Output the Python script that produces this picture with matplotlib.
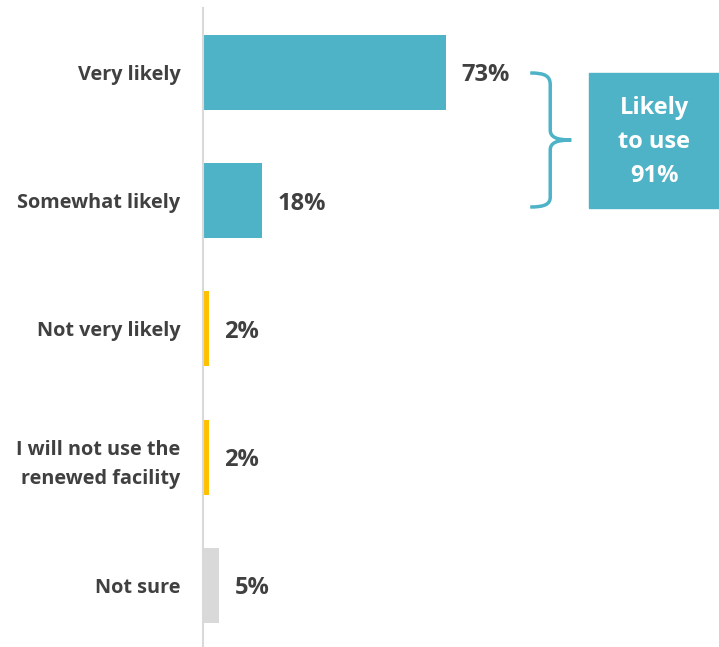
import matplotlib.pyplot as plt
from matplotlib.patches import Rectangle, PathPatch
from matplotlib.path import Path

categories = ['Very likely', 'Somewhat likely', 'Not very likely',
              'I will not use the\nrenewed facility', 'Not sure']
values = [73, 18, 2, 2, 5]
colors = ['#4FB3C8', '#4FB3C8', '#FFC000', '#FFC000', '#D9D9D9']
summary_label = 'Likely\nto use\n91%'

plt.rcParams['font.family'] = ['Open Sans', 'DejaVu Sans']
txt = '#404040'

fig = plt.figure(figsize=(7.19, 6.47), dpi=100)
ax = fig.add_axes([202.5 / 719, 0, 1 - 202.5 / 719, (647 - 8) / 647])

y = list(range(len(categories)))
ax.barh(y, values, height=0.585, color=colors)
ax.set_ylim(4.48, -0.503)
ax.set_xlim(0, 155)

for yi, v in zip(y, values):
    ax.annotate(f'{v}%', (v, yi), xytext=(11, -2), textcoords='offset points',
                ha='left', va='center', fontsize=17, fontweight='bold', color=txt)

ax.set_yticks(y)
ax.set_yticklabels(categories, fontsize=14.3, fontweight='bold', color=txt,
                   linespacing=1.6)
ax.tick_params(axis='y', length=0, pad=16)
ax.set_xticks([])
for s in ['top', 'right', 'bottom']:
    ax.spines[s].set_visible(False)
ax.spines['left'].set_color('#D9D9D9')
ax.spines['left'].set_linewidth(1.5)

# pixel -> data helpers
def px(xp):
    return (xp - 202.5) / 3.33

def py(yp):
    return (yp - 72.5) / 128.25

# bracket
verts = [
    (px(530), py(73)), (px(545), py(73)), (px(550), py(76)), (px(550), py(85)),
    (px(550), py(130)),
    (px(550), py(137)), (px(556), py(140)), (px(571), py(140)),
    (px(556), py(140)), (px(550), py(143)), (px(550), py(150)),
    (px(550), py(197)),
    (px(550), py(204)), (px(545), py(207)), (px(530), py(207)),
]
codes = [Path.MOVETO, Path.CURVE4, Path.CURVE4, Path.CURVE4,
         Path.LINETO,
         Path.CURVE4, Path.CURVE4, Path.CURVE4,
         Path.CURVE4, Path.CURVE4, Path.CURVE4,
         Path.LINETO,
         Path.CURVE4, Path.CURVE4, Path.CURVE4]
ax.add_patch(PathPatch(Path(verts, codes), fill=False, edgecolor='#4FB3C8',
                       lw=2.5, clip_on=False, capstyle='butt'))

# summary box
ax.add_patch(Rectangle((px(589), py(73)), px(719) - px(589), py(208) - py(73),
                       color='#4FB3C8', clip_on=False))
ax.text((px(589) + px(719)) / 2, py(142), summary_label, ha='center', va='center',
        color='white', fontsize=17, fontweight='bold', linespacing=1.55)

fig.savefig('out.png', dpi=100)
